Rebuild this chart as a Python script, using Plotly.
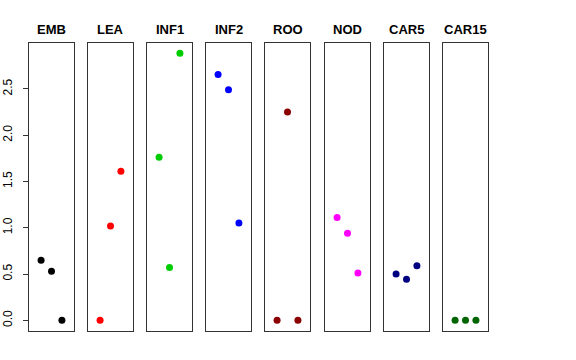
import plotly.graph_objects as go

categories = ["EMB", "LEA", "INF1", "INF2", "ROO", "NOD", "CAR5", "CAR15"]
colors = ["#000000", "#FF0000", "#00CD00", "#0000FF", "#8B0000", "#FF00FF", "#000080", "#006400"]
positions = [1, 2, 3]
emb = [0.65, 0.53, 0.0]
lea = [0.0, 1.02, 1.61]
inf1 = [1.76, 0.57, 2.885]
inf2 = [2.655, 2.49, 1.05]
roo = [0.0, 2.25, 0.0]
nod = [1.11, 0.94, 0.51]
car5 = [0.50, 0.445, 0.59]
car15 = [0.0, 0.0, 0.0]
series = [emb, lea, inf1, inf2, roo, nod, car5, car15]
yticks = [0.0, 0.5, 1.0, 1.5, 2.0, 2.5]
ytick_labels = ["0.0", "0.5", "1.0", "1.5", "2.0", "2.5"]

W, H = 576, 360
panel_left = [29, 88, 147, 206, 265, 325, 384, 443]
panel_w = 45
top_px, bot_px = 43, 331

fig = go.Figure()
layout = dict(width=W, height=H, autosize=False, margin=dict(l=0, r=0, t=0, b=0),
              plot_bgcolor="white", paper_bgcolor="white", showlegend=False,
              font=dict(family="Liberation Sans, Arial, sans-serif", color="black"))
annotations = []
for i, (cat, col, vals) in enumerate(zip(categories, colors, series)):
    n = "" if i == 0 else str(i + 1)
    fig.add_trace(go.Scatter(x=positions, y=vals, mode="markers",
                             marker=dict(color=col, size=7, line=dict(width=0)),
                             xaxis="x" + n, yaxis="y" + n))
    x0 = panel_left[i] / W
    x1 = (panel_left[i] + panel_w) / W
    layout["xaxis" + n] = dict(domain=[x0, x1], range=[-0.16, 4.16], showgrid=False, zeroline=False,
                               showticklabels=False, ticks="", showline=True, mirror=True,
                               linecolor="#333333", linewidth=1, anchor="y" + n, fixedrange=True)
    ya = dict(domain=[(H - bot_px) / H, (H - top_px) / H], range=[-0.115, 2.995], showgrid=False,
              zeroline=False, showline=True, mirror=True, linecolor="#333333", linewidth=1,
              anchor="x" + n, automargin=False)
    if i == 0:
        ya.update(tickvals=yticks, ticktext=ytick_labels, ticks="outside", ticklen=5,
                  tickcolor="#333333", tickangle=-90, tickfont=dict(size=12),
                  ticklabelstandoff=6)
    else:
        ya.update(showticklabels=False, ticks="")
    layout["yaxis" + n] = ya
    annotations.append(dict(text="<b>%s</b>" % cat, x=(x0 + x1) / 2, y=(H - 29) / H,
                            xref="paper", yref="paper", showarrow=False,
                            xanchor="center", yanchor="middle", font=dict(size=13)))
layout["annotations"] = annotations
fig.update_layout(**layout)
fig.write_html("out.html", config={"displayModeBar": False},
               post_script="document.body.style.margin='0';document.body.style.padding='0';")
